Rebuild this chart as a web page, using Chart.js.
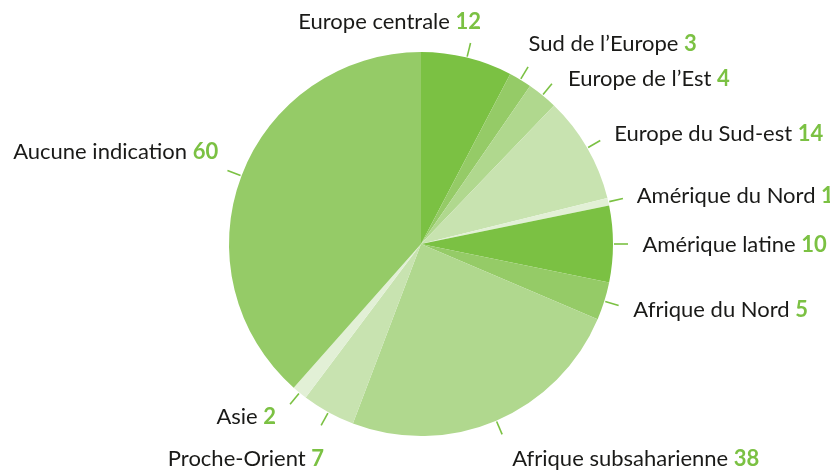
<!DOCTYPE html>
<html><head><meta charset="utf-8">
<script src="https://cdn.jsdelivr.net/npm/chart.js@4"></script>
<style>html,body{margin:0;padding:0;background:#fff}</style>
</head><body>
<canvas id="c" width="830" height="472"></canvas>
<script>
// ---- data ----
const categories = ["Europe centrale", "Sud de l\u2019Europe", "Europe de l\u2019Est", "Europe du Sud-est", "Am\u00e9rique du Nord", "Am\u00e9rique latine", "Afrique du Nord", "Afrique subsaharienne", "Proche-Orient", "Asie", "Aucune indication"];
const counts = [12, 3, 4, 14, 1, 10, 5, 38, 7, 2, 60];

// ---- styles ----
const sliceColors = ["#7bc143", "#95cb67", "#b0d88e", "#c8e3b0", "#e2f0d6", "#7bc143", "#95cb67", "#b0d88e", "#c8e3b0", "#e2f0d6", "#95cb67"];
const FONT = "Lato";
const FONT_SIZE = 22;
const TEXT_COLOR = "#1a1a18";
const NUM_COLOR = "#7bc143";
// label placement relative to end of the leader line: [align, dx, dy(baseline)]
const labelLayout = [
  ["right", 10.5, -14.5], ["left", 0.5, -15.8], ["left", 16, 2.3], ["left", 14, 0.5],
  ["left", 13.8, 4.2], ["left", 14.5, 7.7], ["left", 14.7, 11.4], ["left", 10, 31.6],
  ["right", 3, 40.7], ["right", -14, 19.7], ["right", -9.2, -11.3]
];

const labelPlugin = {
  id: 'pieLabels',
  afterDraw(chart) {
    const ctx = chart.ctx;
    const meta = chart.getDatasetMeta(0);
    ctx.save();
    meta.data.forEach((arc, i) => {
      const p = arc.getProps(['x', 'y', 'startAngle', 'endAngle', 'outerRadius'], true);
      const mid = (p.startAngle + p.endAngle) / 2;
      const cx = Math.cos(mid), cy = Math.sin(mid);
      const r = p.outerRadius;
      ctx.strokeStyle = NUM_COLOR;
      ctx.lineWidth = 1.6;
      ctx.beginPath();
      ctx.moveTo(p.x + cx * (r + 1), p.y + cy * (r + 1));
      ctx.lineTo(p.x + cx * (r + 15), p.y + cy * (r + 15));
      ctx.stroke();
      const ax = p.x + cx * (r + 15), ay = p.y + cy * (r + 15);
      const [align, dx, dy] = labelLayout[i];
      const name = chart.data.labels[i] + " ";
      const val = String(chart.data.datasets[0].data[i]);
      ctx.font = `${FONT_SIZE}px "${FONT}"`;
      const w1 = ctx.measureText(name).width;
      ctx.font = `bold ${FONT_SIZE}px "${FONT}"`;
      const w2 = ctx.measureText(val).width;
      let x0 = ax + dx;
      if (align === "right") x0 -= (w1 + w2);
      const by = ay + dy;
      ctx.textAlign = "left";
      ctx.textBaseline = "alphabetic";
      ctx.font = `${FONT_SIZE}px "${FONT}"`;
      ctx.fillStyle = TEXT_COLOR;
      ctx.fillText(name, x0, by);
      ctx.font = `bold ${FONT_SIZE}px "${FONT}"`;
      ctx.fillStyle = NUM_COLOR;
      ctx.fillText(val, x0 + w1, by);
    });
    ctx.restore();
  }
};

new Chart(document.getElementById('c'), {
  type: 'pie',
  data: {
    labels: categories,
    datasets: [{ data: counts, backgroundColor: sliceColors, borderWidth: 0 }]
  },
  options: {
    responsive: false,
    animation: false,
    devicePixelRatio: 1,
    layout: { padding: { top: 52, bottom: 36, left: 229, right: 217 } },
    plugins: { legend: { display: false }, tooltip: { enabled: false } }
  },
  plugins: [labelPlugin]
});
</script>
</body></html>
